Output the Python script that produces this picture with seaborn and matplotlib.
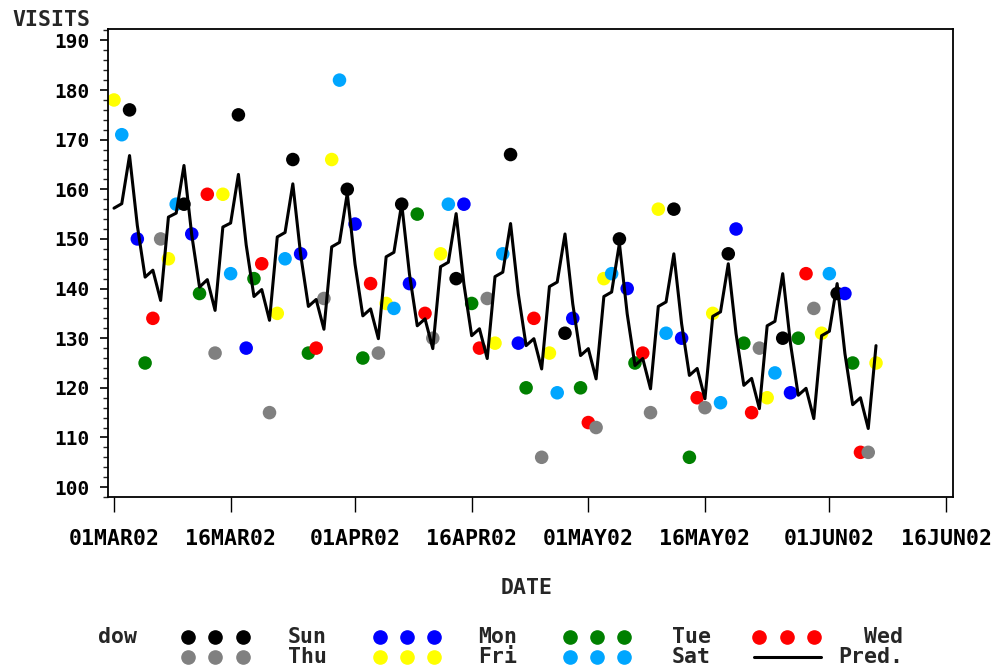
import pandas as pd
import matplotlib
matplotlib.use("Agg")
import matplotlib.pyplot as plt
from matplotlib.lines import Line2D
from matplotlib.ticker import MultipleLocator, FixedLocator, FuncFormatter
import matplotlib.dates as mdates
import seaborn as sns

# ---- data -------------------------------------------------------------
start_date = "2002-03-01"

# daily visits, 01MAR02 .. 07JUN02
visits = [
    178, 171, 176, 150, 125, 134, 150, 146, 157, 157, 151, 139, 159, 127,
    159, 143, 175, 128, 142, 145, 115, 135, 146, 166, 147, 127, 128, 138,
    166, 182, 160, 153, 126, 141, 127, 137, 136, 157, 141, 155, 135, 130,
    147, 157, 142, 157, 137, 128, 138, 129, 147, 167, 129, 120, 134, 106,
    127, 119, 131, 134, 120, 113, 112, 142, 143, 150, 140, 125, 127, 115,
    156, 131, 156, 130, 106, 118, 116, 135, 117, 147, 152, 129, 115, 128,
    118, 123, 130, 119, 130, 143, 136, 131, 143, 139, 139, 125, 107, 107,
    125,
]

# model prediction for the same days
predicted = [
    156.2, 157.1, 166.8, 152.7, 142.3, 143.7, 137.6,
    154.4, 155.2, 164.8, 150.8, 140.3, 141.8, 135.6,
    152.4, 153.2, 163.0, 148.8, 138.4, 139.8, 133.6,
    150.4, 151.3, 161.1, 146.9, 136.4, 137.8, 131.8,
    148.4, 149.3, 159.2, 144.9, 134.5, 135.9, 129.9,
    146.4, 147.3, 157.1, 142.9, 132.5, 133.9, 127.9,
    144.4, 145.3, 155.1, 140.9, 130.5, 131.9, 125.9,
    142.4, 143.3, 153.1, 138.9, 128.5, 129.9, 123.8,
    140.4, 141.3, 151.0, 136.9, 126.5, 127.9, 121.8,
    138.4, 139.3, 149.1, 134.9, 124.5, 125.9, 119.8,
    136.4, 137.3, 147.0, 132.9, 122.5, 123.9, 117.8,
    134.4, 135.3, 145.0, 130.9, 120.5, 121.9, 115.8,
    132.5, 133.4, 143.0, 128.9, 118.5, 119.9, 113.8,
    130.5, 131.4, 141.0, 126.9, 116.6, 118.0, 111.8,
    128.5,
]

dow_order = ["Sun", "Mon", "Tue", "Wed", "Thu", "Fri", "Sat"]
dow_colors = ["#000000", "#0000FF", "#008000", "#FF0000",
              "#808080", "#FFFF00", "#00A6FF"]

date_ticks = ["2002-03-01", "2002-03-16", "2002-04-01", "2002-04-16",
              "2002-05-01", "2002-05-16", "2002-06-01", "2002-06-16"]
y_ticks = [100, 110, 120, 130, 140, 150, 160, 170, 180, 190]

# ---- frame ------------------------------------------------------------
dates = pd.date_range(start_date, periods=len(visits), freq="D")
df = pd.DataFrame({
    "DATE": dates,
    "VISITS": visits,
    "Pred": predicted,
    "dow": dates.strftime("%a"),
})
palette = dict(zip(dow_order, dow_colors))

sns.set_theme(style="white")
plt.rcParams["font.family"] = ["DejaVu Sans Mono", "DejaVu Sans"]
plt.rcParams["font.weight"] = "bold"

TXT = 15.5   # size for labels and legend text

W, H = 994, 671
fig = plt.figure(figsize=(W / 100, H / 100), dpi=100)
ax = fig.add_axes([108 / W, 1 - 497 / H, 845 / W, 468 / H])

sns.scatterplot(data=df, x="DATE", y="VISITS", hue="dow", hue_order=dow_order,
                palette=palette, s=95, linewidth=0, edgecolor="none",
                legend=False, ax=ax, zorder=2)
sns.lineplot(data=df, x="DATE", y="Pred", color="black", linewidth=2.2,
             ax=ax, zorder=3)

# ---- axes -------------------------------------------------------------
ax.set_xlim(pd.Timestamp(start_date) - pd.Timedelta(hours=18.5),
            pd.Timestamp(date_ticks[-1]) + pd.Timedelta(hours=21.6))
ax.set_ylim(98.0, 192.3)

ax.xaxis.set_major_locator(FixedLocator(mdates.date2num(pd.to_datetime(date_ticks))))
ax.xaxis.set_major_formatter(
    FuncFormatter(lambda v, p: mdates.num2date(v).strftime("%d%b%y").upper()))
ax.yaxis.set_major_locator(FixedLocator(y_ticks))
ax.yaxis.set_minor_locator(MultipleLocator(2))

for sp in ax.spines.values():
    sp.set_visible(True)
    sp.set_color("black")
    sp.set_linewidth(1.3)

ax.tick_params(axis="y", which="major", left=True, direction="out",
               length=6, width=1.2, pad=7, labelsize=14, colors="black")
ax.tick_params(axis="y", which="minor", left=True, direction="out",
               length=3.6, width=1.0)
ax.tick_params(axis="x", which="major", bottom=True, direction="out",
               length=11, width=1.0, pad=12, labelsize=TXT, colors="black")
ax.set_xlabel("")
ax.set_ylabel("")
ax.grid(False)

fig.text(90 / W, 1 - 20 / H, "VISITS", ha="right", va="center",
         fontsize=TXT, fontweight="bold")
fig.text(527 / W, 1 - 588 / H, "DATE", ha="center", va="center",
         fontsize=TXT, fontweight="bold")

# ---- legend -----------------------------------------------------------
def fx(px):
    return px / W

def fy(py):
    return 1 - py / H

row_y = [637, 657]
fig.text(fx(98), fy(row_y[0]), "dow", ha="left", va="center", fontsize=TXT,
         fontweight="bold")

dot_x = [[188, 215, 243], [380, 407, 434], [570, 597, 624], [759, 787, 814]]
label_x = [288, 478, 672]
entries = [("Sun", 0, 0), ("Mon", 1, 0), ("Tue", 2, 0), ("Wed", 3, 0),
           ("Thu", 0, 1), ("Fri", 1, 1), ("Sat", 2, 1)]
for name, col, row in entries:
    color = palette[name]
    for x in dot_x[col]:
        fig.add_artist(Line2D([fx(x)], [fy(row_y[row])], marker="o",
                              markersize=9.5, color=color, linestyle="none",
                              transform=fig.transFigure))
    if col < 3:
        fig.text(fx(label_x[col]), fy(row_y[row]), name, ha="left",
                 va="center", fontsize=TXT, fontweight="bold")
    else:
        fig.text(fx(903), fy(row_y[row]), name, ha="right", va="center",
                 fontsize=TXT, fontweight="bold")

fig.add_artist(Line2D([fx(754), fx(821)], [fy(row_y[1]), fy(row_y[1])],
                      color="black", linewidth=2.2, transform=fig.transFigure))
fig.text(fx(903), fy(row_y[1]), "Pred.", ha="right", va="center",
         fontsize=TXT, fontweight="bold")

fig.savefig("out.png", dpi=100)
